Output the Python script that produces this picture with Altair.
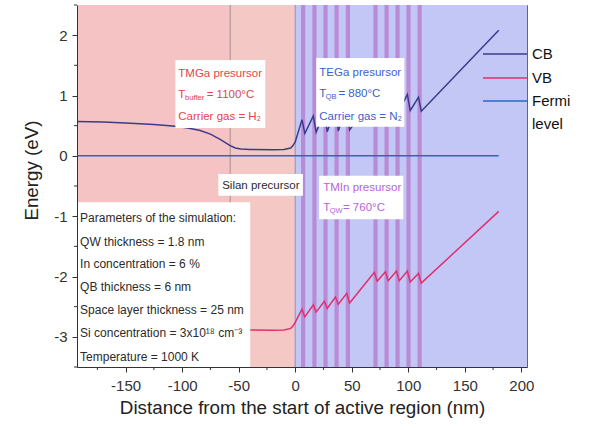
import altair as alt
import pandas as pd

# ---------------------------------------------------------------------------
# Band-edge profile along the growth direction (distance in nm, energy in eV)
# ---------------------------------------------------------------------------
pos = [-193, -170, -150, -125, -106, -95, -84, -75, -66, -60, -57.5, -53, -48, -40,
       -20, -10, -4, -2, 0,
       6, 8.5, 16, 18.5, 25.8, 28.3, 35.6, 38.1, 45.6, 48.1,
       70, 72.5, 79.8, 82.3, 89.5, 92, 99.2, 101.7, 109, 111.5,
       180]

cb = [0.57, 0.56, 0.545, 0.52, 0.49, 0.46, 0.42, 0.36, 0.27, 0.20, 0.17, 0.13, 0.115, 0.105,
      0.10, 0.105, 0.13, 0.17, 0.23,
      0.60, 0.37, 0.66, 0.39, 0.72, 0.40, 0.78, 0.41, 0.84, 0.43,
      1.00, 0.76, 1.00, 0.76, 1.01, 0.75, 1.02, 0.75, 0.97, 0.74,
      2.08]

vb = [-2.42, -2.43, -2.445, -2.47, -2.50, -2.53, -2.57, -2.63, -2.72, -2.79, -2.82, -2.86, -2.875, -2.885,
      -2.89, -2.885, -2.86, -2.82, -2.76,
      -2.54, -2.67, -2.47, -2.59, -2.41, -2.53, -2.34, -2.46, -2.28, -2.44,
      -1.93, -2.08, -1.92, -2.07, -1.91, -2.07, -1.91, -2.09, -1.95, -2.11,
      -0.92]

fermi_pos = [-193, 180]
fermi_e = [0.0, 0.0]

# Growth regions: GaN buffer, Si-doped layer, active region
region_start = [-193, -57.5, 0]
region_end = [-57.5, 0, 205]
region_color = ["#f6c3c4", "#f4c8c4", "#c3c7f6"]

# Quantum well centres (nm) and drawn stripe half width
qw_centers = [7, 17, 26.8, 36.6, 46.6, 71, 80.8, 90.5, 100.2, 110]
QW_HALF = 1.85

# Tick positions (major ticks are labelled, minor ticks are not)
x_major = [-150, -100, -50, 0, 50, 100, 150, 200]
x_minor = [-175, -125, -75, -25, 25, 75, 125, 175]
y_major = [-3, -2, -1, 0, 1, 2]
y_minor = [-3.5, -2.5, -1.5, -0.5, 0.5, 1.5, 2.5]

XS = alt.Scale(domain=[-193, 205], nice=False, zero=False)
YS = alt.Scale(domain=[-3.5, 2.5], nice=False, zero=False)
FONT = "Liberation Sans"
AXIS_INK = "#333"

profile = pd.DataFrame({"pos": pos, "CB": cb, "VB": vb})
fermi = pd.DataFrame({"pos": fermi_pos, "E": fermi_e})
regions = pd.DataFrame({"x0": region_start, "x1": region_end, "c": region_color})
wells = pd.DataFrame({"x0": [c - QW_HALF for c in qw_centers],
                      "x1": [c + QW_HALF for c in qw_centers]})
one = pd.DataFrame({"k": [0]})

x_axis = alt.Axis(
    title="Distance from the start of active region (nm)",
    values=x_major, format="d",
    tickSize=5, labelFontSize=15, labelColor="#333", labelPadding=6,
    titleFontSize=18.8, titleFontWeight="normal", titleColor="#222", titlePadding=5,
    domainColor=AXIS_INK, tickColor=AXIS_INK, grid=False, labelFlush=False,
    labelExpr="replace(datum.label, '\u2212', '-')", zindex=1,
)
y_axis = alt.Axis(
    title="Energy (eV)",
    values=y_major, format="d",
    tickSize=5, labelFontSize=15, labelColor="#333", labelPadding=5,
    titleFontSize=18.8, titleFontWeight="normal", titleColor="#222", titlePadding=12,
    titleY=165,
    domainColor=AXIS_INK, tickColor=AXIS_INK, grid=False, labelFlush=False,
    labelExpr="replace(datum.label, '\u2212', '-')", zindex=1,
)


def X(field):
    return alt.X(field, scale=XS, axis=x_axis)


def Y(field):
    return alt.Y(field, scale=YS, axis=y_axis)


# Coloured growth regions spanning the full height
bg = alt.Chart(regions).mark_rect().encode(
    x=X("x0:Q"), x2="x1:Q",
    color=alt.Color("c:N", scale=None),
)

qw = alt.Chart(wells).mark_rect(color="#b98bd6").encode(x=X("x0:Q"), x2="x1:Q")

borders = alt.Chart(pd.DataFrame({"x": [-57.5, 0], "c": ["#a58c8c", "#8d8bcc"]})).mark_rule(
    strokeWidth=1
).encode(x=X("x:Q"), color=alt.Color("c:N", scale=None))

fermi_line = alt.Chart(fermi).mark_line(color="#2566d0", strokeWidth=1.5).encode(
    x=X("pos:Q"), y=Y("E:Q"))
cb_line = alt.Chart(profile).mark_line(color="#3b3b8c", strokeWidth=1.5).encode(
    x=X("pos:Q"), y=Y("CB:Q"))
vb_line = alt.Chart(profile).mark_line(color="#e0306e", strokeWidth=1.5).encode(
    x=X("pos:Q"), y=Y("VB:Q"))

# White annotation boxes
boxes = pd.DataFrame({
    "x0": [-193, -106, 18.6, 21.2, -68],
    "x1": [-39.8, -26.5, 96.5, 95.6, 6.8],
    "y0": [-3.5, 0.46, 0.48, -1.05, -0.66],
    "y1": [-0.77, 1.59, 1.62, -0.33, -0.30],
})
box_layer = alt.Chart(boxes).mark_rect(color="white").encode(
    x=X("x0:Q"), x2="x1:Q", y=Y("y0:Q"), y2="y1:Q",
)

RED, BLUE, PURPLE, DARK = "#e2454c", "#3d5fd0", "#b266d6", "#2b2b2b"
notes = pd.DataFrame([
    # simulation parameters
    (-190.3, -1.035, "Parameters of the simulation:", 12, DARK),
    (-190.3, -1.424, "QW thickness = 1.8 nm", 12, DARK),
    (-190.3, -1.798, "In concentration = 6 %", 12, DARK),
    (-190.3, -2.180, "QB thickness = 6 nm", 12, DARK),
    (-190.3, -2.556, "Space layer thickness = 25 nm", 12, DARK),
    (-190.3, -2.942, "Si concentration = 3x10\u00b9\u2078 cm\u207b\u00b3", 12, DARK),
    (-190.3, -3.330, "Temperature = 1000 K", 12, DARK),
    # buffer growth
    (-103.4, 1.356, "TMGa presursor", 11.5, RED),
    (-103.4, 1.008, "T", 11.5, RED),
    (-97.4, 0.955, "buffer", 7.5, RED),
    (-78.3, 1.008, "= 1100\u00b0C", 11.5, RED),
    (-103.4, 0.644, "Carrier gas = H\u2082", 11.5, RED),
    # barrier growth
    (21.3, 1.378, "TEGa presursor", 11.5, BLUE),
    (21.3, 1.020, "T", 11.5, BLUE),
    (27.0, 0.967, "QB", 7.5, BLUE),
    (38.2, 1.020, "= 880\u00b0C", 11.5, BLUE),
    (21.3, 0.649, "Carrier gas = N\u2082", 11.5, BLUE),
    # well growth
    (24.8, -0.533, "TMIn presursor", 11.5, PURPLE),
    (24.8, -0.865, "T", 11.5, PURPLE),
    (30.5, -0.918, "QW", 7.5, PURPLE),
    (42.2, -0.865, "= 760\u00b0C", 11.5, PURPLE),
    # doping
    (-64.6, -0.50, "Silan precursor", 11.5, DARK),
], columns=["x", "y", "t", "s", "c"])

text_layer = alt.Chart(notes).mark_text(align="left", baseline="middle", font=FONT).encode(
    x=X("x:Q"), y=Y("y:Q"),
    text="t:N",
    size=alt.Size("s:Q", scale=None),
    color=alt.Color("c:N", scale=None),
)

# Unlabelled minor ticks below the x axis and left of the y axis
x_minor_ticks = alt.Chart(pd.DataFrame({"v": x_minor})).mark_rule(
    color=AXIS_INK, strokeWidth=1
).encode(x=X("v:Q"), y=alt.value(362), y2=alt.value(365))
y_minor_ticks = alt.Chart(pd.DataFrame({"v": y_minor})).mark_rule(
    color=AXIS_INK, strokeWidth=1
).encode(y=Y("v:Q"), x=alt.value(-3), x2=alt.value(0))

# Series key to the right of the plot
key_names = ["CB", "VB", "Fermi", "level"]
key_colors = ["#3b3b8c", "#e0306e", "#2566d0"]
key_rows = [49, 73, 96, 119]
key_layers = []
for col, row in zip(key_colors, key_rows):
    key_layers.append(
        alt.Chart(one).mark_rule(color=col, strokeWidth=1.5).encode(
            x=alt.value(406), x2=alt.value(450), y=alt.value(row)
        )
    )
for name, row in zip(key_names, key_rows):
    key_layers.append(
        alt.Chart(one).mark_text(align="left", baseline="middle", font=FONT,
                                 fontSize=15, color="#111").encode(
            x=alt.value(455), y=alt.value(row), text=alt.value(name)
        )
    )

chart = alt.layer(
    bg, qw, borders, fermi_line, cb_line, vb_line, box_layer, text_layer,
    x_minor_ticks, y_minor_ticks, *key_layers
).properties(
    width=450, height=362,
    padding={"left": 77, "top": 5, "right": 65, "bottom": 63},
    autosize=alt.AutoSizeParams(type="none"),
).configure(
    font=FONT,
).configure_view(
    stroke="#666", strokeWidth=1,
)

chart.save("out.html", embed_options={"renderer": "svg", "actions": False})
